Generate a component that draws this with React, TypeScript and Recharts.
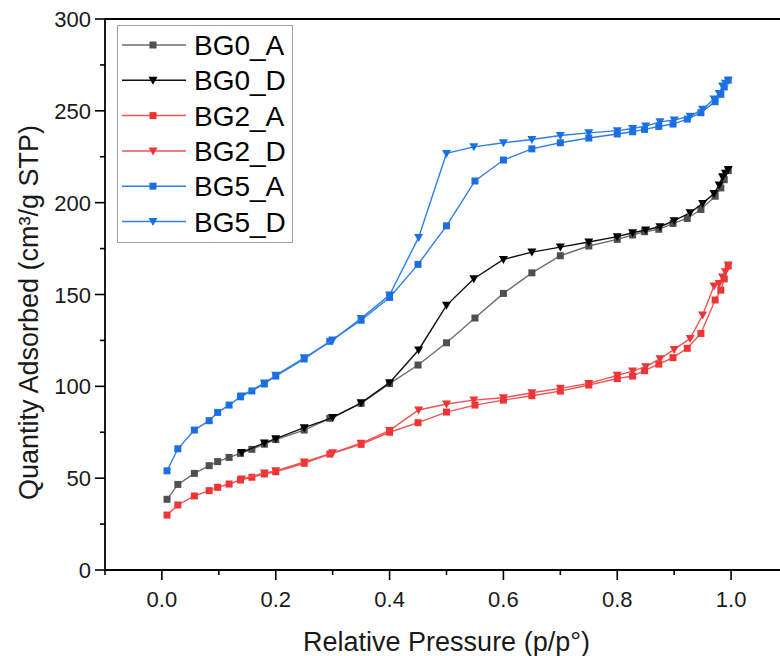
import React from 'react';
import { ScatterChart, Scatter, XAxis, YAxis, Legend, ReferenceLine } from 'recharts';

// relative pressure (p/p°) for adsorption and desorption branches
const P_ADS = [0.009, 0.028, 0.057, 0.083, 0.098, 0.118, 0.138, 0.158, 0.18, 0.2, 0.25, 0.295, 0.35, 0.4, 0.45, 0.5, 0.55, 0.6, 0.65, 0.7, 0.75, 0.8, 0.827, 0.848, 0.873, 0.898, 0.923, 0.947, 0.972, 0.982, 0.988, 0.995];
const P_DES = [0.995, 0.99, 0.985, 0.979, 0.97, 0.95, 0.928, 0.9, 0.875, 0.85, 0.827, 0.8, 0.75, 0.7, 0.65, 0.6, 0.548, 0.5, 0.451, 0.4, 0.35, 0.3, 0.25, 0.2, 0.18, 0.14];

// quantity adsorbed (cm³/g STP)
const BG0_A = [38.5, 46.6, 52.6, 56.8, 59, 61.3, 63.5, 65.7, 68.5, 71, 76.2, 82.6, 90.7, 101.5, 111.6, 123.7, 137.2, 150.6, 161.8, 171.1, 176.4, 180, 182.4, 184.2, 185.5, 188.7, 191.4, 196.3, 203.5, 208, 212.5, 217.5];
const BG0_D = [218.1, 216, 214.1, 209.6, 205, 199.6, 194.5, 190.2, 186.9, 185.1, 183.6, 181.5, 178.6, 175.8, 173.1, 169.1, 158.6, 144.1, 119.8, 102, 91, 83, 77.5, 71.5, 69.2, 64];
const BG2_A = [29.9, 35.4, 40.3, 43.2, 45, 46.8, 49, 50.5, 52.3, 53.5, 58.1, 63.1, 68.4, 75, 80.2, 86, 89.8, 92.5, 94.9, 97.4, 100.7, 104.2, 105.6, 108.5, 112.1, 115.6, 120.7, 128.8, 147, 152.4, 158.5, 165.5];
const BG2_D = [166, 162.4, 159.5, 156, 154.6, 138.8, 126, 120.1, 115, 110.7, 108.3, 106, 101.6, 98.9, 96.5, 93.8, 92.5, 90.4, 87.1, 76, 69, 63.8, 58.8, 54, 52.8, 49.5];
const BG5_A = [54, 66, 76.2, 81.3, 85.8, 89.8, 94.3, 97.5, 101.3, 105.6, 114.9, 124.5, 136, 148.4, 166.4, 187.4, 211.8, 223.2, 229.3, 232.6, 235.2, 237.4, 238.6, 239.9, 241.5, 242.8, 245.5, 249, 255, 259, 263, 266.7];
const BG5_D = [266.7, 265, 263.5, 259.5, 256.5, 250.8, 247.1, 245, 244, 241.7, 240.4, 239.2, 238, 236.6, 234.4, 232.6, 230.4, 226.8, 181.1, 149.7, 137, 125.2, 115.5, 106, 101.8, 94.8];

const X_TICKS = [-0.1, 0, 0.1, 0.2, 0.3, 0.4, 0.5, 0.6, 0.7, 0.8, 0.9, 1.0, 1.1];
const Y_TICKS = [0, 25, 50, 75, 100, 125, 150, 175, 200, 225, 250, 275, 300];

const FONT = '"Liberation Sans", Arial, sans-serif';

const toPoints = (xs: number[], ys: number[]) => xs.map((x, i) => ({ x, y: ys[i] }));

const SERIES = [
  { name: 'BG0_A', data: toPoints(P_ADS, BG0_A), marker: 'square', fill: '#4f4f4f', line: '#6e6e6e' },
  { name: 'BG0_D', data: toPoints(P_DES, BG0_D), marker: 'down', fill: '#000000', line: '#111111' },
  { name: 'BG2_A', data: toPoints(P_ADS, BG2_A), marker: 'square', fill: '#ee3535', line: '#f25252' },
  { name: 'BG2_D', data: toPoints(P_DES, BG2_D), marker: 'down', fill: '#ee3535', line: '#f25252' },
  { name: 'BG5_A', data: toPoints(P_ADS, BG5_A), marker: 'square', fill: '#1a6fe2', line: '#2f7fe6' },
  { name: 'BG5_D', data: toPoints(P_DES, BG5_D), marker: 'down', fill: '#1a6fe2', line: '#2f7fe6' },
];

const Marker = ({ cx, cy, kind, fill }: { cx: number; cy: number; kind: string; fill: string }) => {
  if (kind === 'square') {
    return <rect x={cx - 3.5} y={cy - 3.5} width={7} height={7} fill={fill} />;
  }
  return <polygon points={`${cx - 4.5},${cy - 3.5} ${cx + 4.5},${cy - 3.5} ${cx},${cy + 4.5}`} fill={fill} />;
};

const isMajorX = (v: number) => Math.abs(Math.round(v * 10)) % 2 === 0;

const XTick = (props: any) => {
  const { x, y, payload } = props;
  const v = payload.value;
  const major = isMajorX(v);
  const showLabel = major && v >= 0 && v <= 1.0001;
  return (
    <g>
      <line x1={x} x2={x} y1={y} y2={y + (major ? 10 : 5)} stroke="#000" strokeWidth={1.6} />
      {showLabel && (
        <text x={x} y={y + 37} textAnchor="middle" fontSize={22} fontFamily={FONT} fill="#1a1a1a">
          {v.toFixed(1)}
        </text>
      )}
    </g>
  );
};

const YTick = (props: any) => {
  const { x, y, payload } = props;
  const v = payload.value;
  const major = v % 50 === 0;
  return (
    <g>
      <line x1={x - (major ? 10 : 5)} x2={x} y1={y} y2={y} stroke="#000" strokeWidth={1.6} />
      {major && (
        <text x={x - 14} y={y + 8} textAnchor="end" fontSize={22} fontFamily={FONT} fill="#1a1a1a">
          {v}
        </text>
      )}
    </g>
  );
};

const YTitle = (props: any) => {
  const { viewBox } = props;
  const x = viewBox.x + 29;
  const y = viewBox.y + viewBox.height / 2 + 18;
  return (
    <text
      x={x}
      y={y}
      transform={`rotate(-90 ${x} ${y})`}
      textAnchor="middle"
      dominantBaseline="central"
      fontSize={27}
      fontFamily={FONT}
      fill="#1a1a1a"
    >
      Quantity Adsorbed (cm³/g STP)
    </text>
  );
};

const LegendBox = () => (
  <svg width={176} height={218} style={{ display: 'block' }}>
    <rect x={0.5} y={0.5} width={175} height={217} fill="#fff" stroke="#a0a0a0" strokeWidth={1} />
    {SERIES.map((s, i) => {
      const cy = 20 + i * 35.3;
      return (
        <g key={s.name}>
          <line x1={5} x2={69} y1={cy} y2={cy} stroke={s.line} strokeWidth={1.5} />
          <Marker cx={36} cy={cy} kind={s.marker} fill={s.fill} />
          <text x={77} y={cy + 10} fontSize={28} fontFamily={FONT} fill="#000">
            {s.name}
          </text>
        </g>
      );
    })}
  </svg>
);

const App: React.FC = () => {
  return (
    <div style={{ position: 'absolute', left: 0, top: 0, width: 780, height: 656, overflow: 'hidden', background: '#fff' }}>
      <ScatterChart width={800} height={656} margin={{ top: 19, right: 12, bottom: 0, left: 0 }}>
        <XAxis
          type="number"
          dataKey="x"
          domain={[-0.1, 1.1]}
          ticks={X_TICKS}
          interval={0}
          height={86}
          tickSize={0}
          tickMargin={0}
          tickLine={false}
          tick={<XTick />}
          axisLine={{ stroke: '#000', strokeWidth: 1.8 }}
          allowDataOverflow
          label={{ value: 'Relative Pressure (p/p°)', position: 'insideBottom', offset: 5, fontSize: 27, fontFamily: FONT, fill: '#1a1a1a' }}
        />
        <YAxis
          type="number"
          dataKey="y"
          domain={[0, 300]}
          ticks={Y_TICKS}
          interval={0}
          width={105}
          tickSize={0}
          tickMargin={0}
          tickLine={false}
          tick={<YTick />}
          axisLine={{ stroke: '#000', strokeWidth: 1.8 }}
          allowDataOverflow
          label={(p: any) => <YTitle {...p} />}
        />
        <ReferenceLine y={300} stroke="#000" strokeWidth={1.8} ifOverflow="visible" />
        {SERIES.map((s) => (
          <Scatter
            key={s.name}
            name={s.name}
            data={s.data}
            fill={s.fill}
            line={{ stroke: s.line, strokeWidth: 1.4 }}
            lineType="joint"
            isAnimationActive={false}
            shape={(p: any) => <Marker cx={p.cx} cy={p.cy} kind={s.marker} fill={s.fill} />}
          />
        ))}
        <Legend
          layout="horizontal"
          verticalAlign="middle"
          align="center"
          content={() => <LegendBox />}
          wrapperStyle={{ position: 'absolute', left: 117, top: 25, width: 176, height: 218 }}
        />
      </ScatterChart>
    </div>
  );
};

export default App;
